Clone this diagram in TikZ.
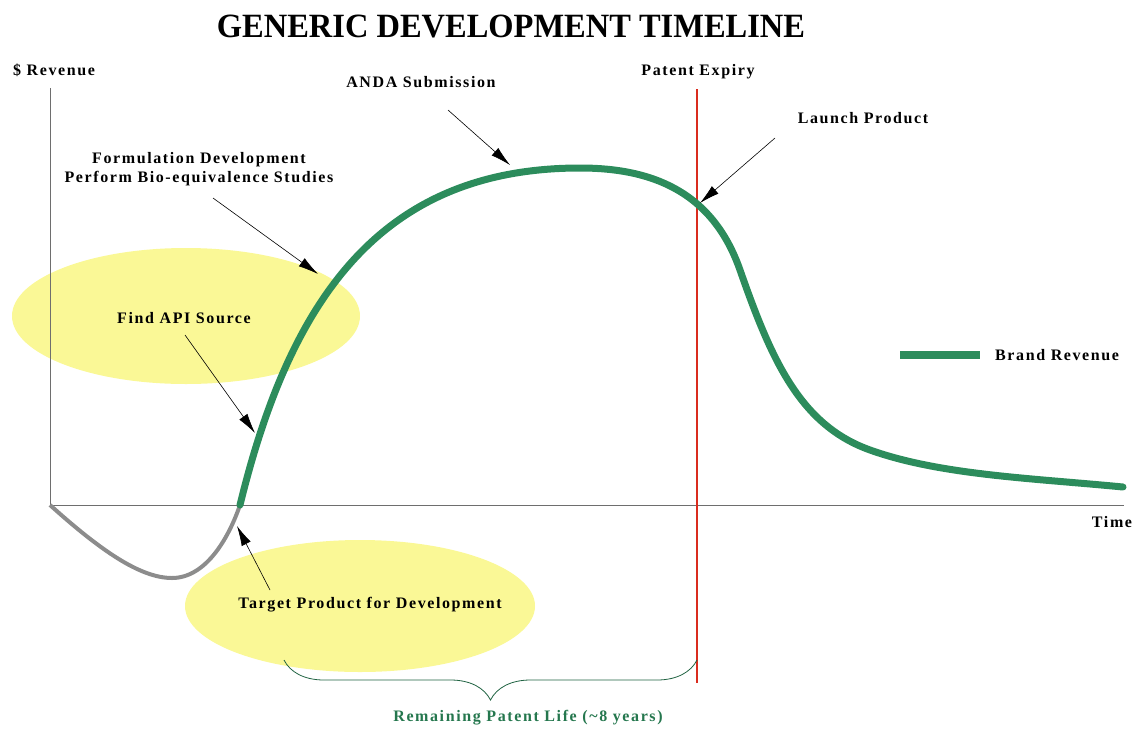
\documentclass[tikz,border=0pt]{standalone}
\usepackage{fontspec}
\setmainfont{Liberation Serif}
\newfontfamily\lblfont[LetterSpace=10]{Liberation Serif}
\usepackage{tikz}
\usetikzlibrary{positioning}
\usetikzlibrary{arrows.meta,decorations.pathreplacing}
\definecolor{brandgreen}{RGB}{44,140,92}
\definecolor{expiryred}{RGB}{218,44,30}
\definecolor{blobyellow}{RGB}{250,248,150}
\definecolor{axisgray}{RGB}{110,110,110}

\begin{document}
\begin{tikzpicture}[x=1pt,y=-1pt,
    lbl/.style={font={\lblfont\fontsize{16}{19}\selectfont\bfseries}, align=center, inner sep=1pt},
    pointer/.style={-{Latex[length=20pt,width=10pt]}, line width=0.6pt},
    revenue/.style={line width=7pt, brandgreen}]
      \useasboundingbox (0,0) rectangle (1134,731);
      % yellow blobs
      \fill[blobyellow] (186,316) ellipse (174 and 68);
      \fill[blobyellow] (360,606) ellipse (175 and 66);
      % axes
      \draw[axisgray, line width=1pt] (50,88) -- (50,505) -- (1124,505);
      \node[font=\fontsize{34}{40}\selectfont\bfseries] (title) at (511,26) {\scalebox{0.955}[1]{GENERIC DEVELOPMENT TIMELINE}};
      \node[lbl] (revlabel) at (54,70) {\$ Revenue};
      \node[lbl] (timelabel) at (1112,522) {Time};
      % patent expiry
      \draw[expiryred, line width=2.5pt] (697,89) -- (697,683);
      \node[lbl] (expiry) at (698,72) {Patent Expiry};
      % curves
      \draw[gray!90, line width=4pt] (50,505) .. controls (100,550) and (140,578) .. (172,578)
        .. controls (205,578) and (228,540) .. (240,505);
      \draw[revenue, line cap=round] (240,505) .. controls (290,300) and (380,168) .. (580,168)
        .. controls (650,168) and (712,190) .. (740,270)
        .. controls (771.5,360) and (800,425) .. (870,450)
        .. controls (940,475) and (1030,478) .. (1123,487);
      % labels and pointers
      \coordinate (ptanda) at (510,165);
      \coordinate (ptlaunch) at (700,203);
      \coordinate (ptformul) at (318,274);
      \coordinate (ptapi) at (255,433);
      \coordinate (pttarget) at (237,526);
      \node[lbl] (anda) at (421,82) {ANDA Submission};
      \node[lbl] (launch) at (863,118) {Launch Product};
      \node[lbl] (formul) at (199,169) {Formulation Development\\Perform Bio-equivalence Studies};
      \node[lbl] (apisrc) at (184,318) {Find API Source};
      \node[lbl] (target) at (370,605) {Target Product for Development};
      \draw[pointer] (448,110) -- (ptanda);
      \draw[pointer] (775,138) -- (ptlaunch);
      \draw[pointer] (213,198) -- (ptformul);
      \draw[pointer] (185,335) -- (ptapi);
      \draw[pointer] (270,590) -- (pttarget);
      % legend
      \coordinate (legA) at (900,355);
      \coordinate (legB) at (980,355);
      \draw[brandgreen, line width=8pt] (legA) -- (legB);
      \node[lbl, right=14pt of legB] (legendlabel) {Brand Revenue};
      % remaining patent life
      \coordinate (braceA) at (284,660);
      \coordinate (braceB) at (697,660);
      \draw[brandgreen!70!black, line width=0.8pt, decorate,
        decoration={brace, mirror, amplitude=40pt}] (braceA) -- (braceB);
      \node[lbl, text=brandgreen!85!black] (patentlife) at (528,718) {Remaining Patent Life (\textasciitilde 8 years)};
\end{tikzpicture}
\end{document}
